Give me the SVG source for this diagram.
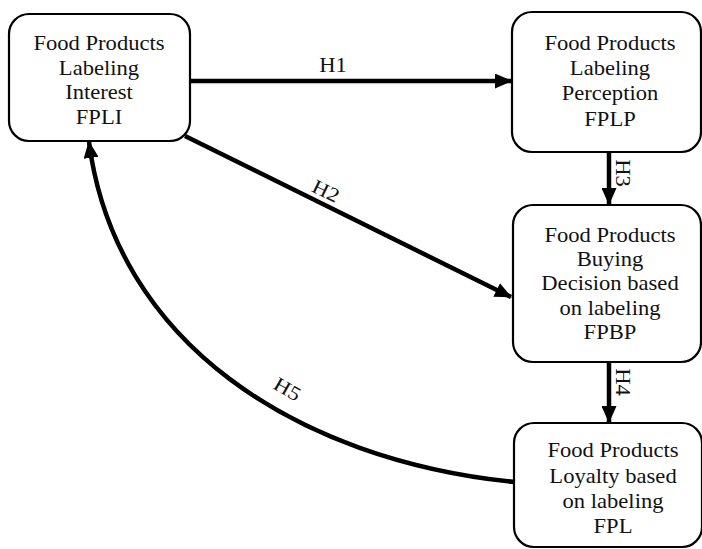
<svg xmlns="http://www.w3.org/2000/svg" width="702" height="549" viewBox="0 0 702 549">
<style>
.box{fill:#fff;stroke:#000;stroke-width:2.2}
.t{font-size:20px;fill:#111;text-anchor:middle}
.e{fill:none;stroke:#000;stroke-width:4.5}
</style>
<defs>
<marker id="ah" markerUnits="userSpaceOnUse" markerWidth="17" markerHeight="15" refX="16" refY="7.5" orient="auto">
<path d="M0,0 L17,7.5 L0,15 Z" fill="#000"/>
</marker>
</defs>
<g id="connectors">
<line class="e" x1="190" y1="81" x2="511" y2="81" marker-end="url(#ah)"/>
<line class="e" x1="185" y1="136" x2="511" y2="297" marker-end="url(#ah)"/>
<line class="e" x1="609" y1="152" x2="609" y2="204" marker-end="url(#ah)"/>
<line class="e" x1="609" y1="362" x2="609" y2="422" marker-end="url(#ah)"/>
<path class="e" d="M514,482 C297,460 115,343 89,142" marker-end="url(#ah)"/>
<g transform="translate(333,72) scale(1.13,1)"><text class="t" font-family="Liberation Serif" x="0" y="0">H1</text></g>
<g transform="translate(323,197) rotate(26.2) scale(1.13,1)"><text class="t" font-family="Liberation Serif" x="0" y="0">H2</text></g>
<g transform="translate(616,173) rotate(90) scale(1.13,1)"><text class="t" font-family="Liberation Serif" x="0" y="0">H3</text></g>
<g transform="translate(616,382) rotate(90) scale(1.13,1)"><text class="t" font-family="Liberation Serif" x="0" y="0">H4</text></g>
<g transform="translate(284,395) rotate(30) scale(1.13,1)"><text class="t" font-family="Liberation Serif" x="0" y="0">H5</text></g>
</g>
<g id="FPLI">
<rect class="box" x="9" y="14" width="181" height="127" rx="20"/>
<g transform="translate(99,0) scale(1.13,1)"><text class="t" font-family="Liberation Serif"><tspan x="0" y="50">Food Products</tspan><tspan x="0" y="75">Labeling</tspan><tspan x="0" y="99">Interest</tspan><tspan x="0" y="124">FPLI</tspan></text></g>
</g>
<g id="FPLP">
<rect class="box" x="512" y="12" width="189" height="140" rx="20"/>
<g transform="translate(610,0) scale(1.13,1)"><text class="t" font-family="Liberation Serif"><tspan x="0" y="50">Food Products</tspan><tspan x="0" y="75">Labeling</tspan><tspan x="0" y="100">Perception</tspan><tspan x="0" y="126">FPLP</tspan></text></g>
</g>
<g id="FPBP">
<rect class="box" x="513" y="205" width="188" height="157" rx="20"/>
<g transform="translate(610,0) scale(1.13,1)"><text class="t" font-family="Liberation Serif"><tspan x="0" y="242">Food Products</tspan><tspan x="0" y="266">Buying</tspan><tspan x="0" y="290">Decision based</tspan><tspan x="0" y="315">on labeling</tspan><tspan x="0" y="339">FPBP</tspan></text></g>
</g>
<g id="FPL">
<rect class="box" x="514" y="423" width="188" height="124" rx="20"/>
<g transform="translate(613,0) scale(1.13,1)"><text class="t" font-family="Liberation Serif"><tspan x="0" y="457">Food Products</tspan><tspan x="0" y="483">Loyalty based</tspan><tspan x="0" y="508">on labeling</tspan><tspan x="0" y="533">FPL</tspan></text></g>
</g>
</svg>
